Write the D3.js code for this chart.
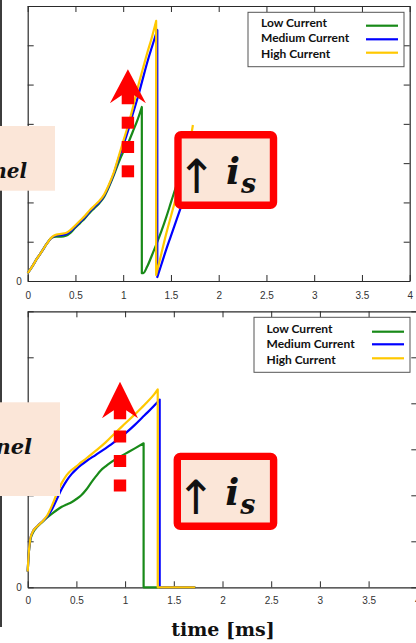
<!DOCTYPE html>
<html><head><meta charset="utf-8">
<script src="https://cdn.jsdelivr.net/npm/d3@7"></script>
<style>
html,body{margin:0;padding:0;background:#fff;}
svg{display:block;}
</style></head>
<body>
<svg id="c" width="416" height="643"></svg>
<script>
// ---------- DATA ----------
const seriesNames = ["Low Current", "Medium Current", "High Current"];
const seriesColors = ["#188a18", "#0000ff", "#ffc800"];
const xTickValues = [0, 0.5, 1, 1.5, 2, 2.5, 3, 3.5, 4];
const xTickLabels = ["0", "0.5", "1", "1.5", "2", "2.5", "3", "3.5", "4"];
const xLabel = "time [ms]";

// top panel
const topLowT  = [0,0.05,0.1,0.15,0.2,0.25,0.3,0.35,0.4,0.45,0.5,0.55,0.6,0.65,0.7,0.75,0.8,0.85,0.9,0.95,1.0,1.05,1.1,1.15,1.195, 1.195,1.21,1.25,1.3,1.35,1.4,1.45,1.5,1.55,1.6,1.65,1.7,1.73];
const topLowV  = [0.2,0.38,0.58,0.76,0.95,1.1,1.13,1.13,1.15,1.23,1.36,1.48,1.6,1.74,1.86,1.98,2.14,2.39,2.68,3.0,3.28,3.5,3.8,4.1,4.43, 0.2,0.2,0.36,0.65,0.95,1.27,1.62,2.0,2.38,2.75,3.1,3.45,3.65];
const topMedT  = [0,0.05,0.1,0.15,0.2,0.25,0.3,0.35,0.4,0.45,0.5,0.55,0.6,0.65,0.7,0.75,0.8,0.85,0.9,0.95,1.0,1.05,1.1,1.15,1.2,1.25,1.3,1.357, 1.357,1.4,1.45,1.5,1.55,1.6,1.65,1.7,1.73];
const topMedV  = [0.2,0.38,0.58,0.76,0.95,1.1,1.16,1.17,1.19,1.27,1.39,1.51,1.63,1.77,1.89,2.01,2.17,2.42,2.72,3.1,3.45,3.82,4.25,4.65,5.1,5.55,5.95,6.39, 0.1,0.42,0.8,1.15,1.5,1.85,2.2,2.55,2.75];
const topHighT = [0,0.05,0.1,0.15,0.2,0.25,0.3,0.35,0.4,0.45,0.5,0.55,0.6,0.65,0.7,0.75,0.8,0.85,0.9,0.95,1.0,1.05,1.1,1.15,1.2,1.25,1.3,1.345, 1.345,1.4,1.45,1.5,1.55,1.6,1.65,1.7,1.73];
const topHighV = [0.2,0.38,0.58,0.76,0.95,1.11,1.18,1.2,1.22,1.3,1.42,1.54,1.66,1.8,1.92,2.04,2.2,2.45,2.75,3.15,3.55,3.95,4.4,4.9,5.35,5.79,6.2,6.62, 0.15,0.7,1.2,1.65,2.1,2.6,3.05,3.55,3.97];

// bottom panel
const botLowT  = [0,0.01,0.025,0.05,0.1,0.15,0.2,0.25,0.3,0.35,0.4,0.45,0.5,0.55,0.6,0.65,0.7,0.75,0.8,0.85,0.9,1.0,1.1,1.19, 1.19,1.72];
const botLowV  = [0.34,0.72,1.0,1.17,1.32,1.42,1.52,1.6,1.68,1.75,1.8,1.85,1.92,2.0,2.12,2.27,2.41,2.54,2.63,2.71,2.78,2.9,3.02,3.13, 0,0];
const botMedT  = [0,0.01,0.025,0.05,0.1,0.15,0.2,0.25,0.3,0.35,0.4,0.45,0.5,0.55,0.6,0.7,0.8,0.9,1.0,1.1,1.2,1.3,1.355, 1.355,1.72];
const botMedV  = [0.34,0.72,1.03,1.2,1.33,1.43,1.54,1.7,1.92,2.14,2.32,2.46,2.57,2.66,2.74,2.88,3.02,3.17,3.34,3.53,3.74,3.95,4.08, 0,0];
const botHighT = [0,0.01,0.025,0.05,0.1,0.15,0.2,0.25,0.3,0.35,0.4,0.45,0.5,0.55,0.6,0.7,0.8,0.9,1.0,1.1,1.2,1.3,1.335, 1.335,1.72];
const botHighV = [0.34,0.72,1.03,1.2,1.33,1.43,1.56,1.78,2.04,2.27,2.44,2.55,2.63,2.72,2.8,2.97,3.15,3.36,3.56,3.76,3.97,4.2,4.3, 0,0];

const topYTicks = [0,1,2,3,4,5,6,7];
const botYTicks = [0,1,2,3,4,5,6];

// ---------- LAYOUT ----------
const svg = d3.select("#c");

const panels = [
  { x0: 27.7, x1: 409.7, y0: 281, y1: 6, ymax: 7, yTicks: topYTicks, pad: 11,
    series: [[topLowT, topLowV], [topMedT, topMedV], [topHighT, topHighV]],
    legend: { x: 248, y: 12.3, w: 156, h: 54.4, tx: 261, ty: [26.7, 42.3, 57.7], lx0: 366, lx1: 398, ly: [25.7, 39.3, 52.7] },
    box: { x: 178, y: 134.7, w: 95.5, h: 70.6 },
    lbox: { x: -2, y: 126, w: 57, h: 64.7, tx: 27, ty: 178, fs: 20 },
    arrow: { cx: 127.9, tip: 69.3, base: 103.3, hw: 18, sw: 6.2, sq: [116.7, 141, 165.3] } },
  { x0: 27.7, x1: 417.3, y0: 587.3, y1: 311.3, ymax: 6, yTicks: botYTicks, pad: 10,
    series: [[botLowT, botLowV], [botMedT, botMedV], [botHighT, botHighV]],
    legend: { x: 254, y: 317.3, w: 156, h: 55, tx: 266.5, ty: [332.7, 348.3, 364.3], lx0: 372, lx1: 404, ly: [331.7, 344.3, 358.3] },
    box: { x: 177.3, y: 456.4, w: 96.3, h: 69.9 },
    lbox: { x: -2, y: 402.3, w: 62, h: 93.7, tx: 32, ty: 454.3, fs: 21 },
    arrow: { cx: 120, tip: 381.7, base: 418.3, hw: 18, sw: 6.2, sq: [430.5, 455, 479.5] } }
];

// left border of neighbouring figure
svg.append("line").attr("x1", 1).attr("x2", 1).attr("y1", 0).attr("y2", 627)
  .attr("stroke", "#3c3c3c").attr("stroke-width", 2);

panels.forEach(p => {
  const x = d3.scaleLinear().domain([0, 4]).range([p.x0, p.x1]);
  const y = d3.scaleLinear().domain([0, p.ymax]).range([p.y0, p.y1]);
  const g = svg.append("g");

  // axes (inward ticks, box frame)
  const axB = d3.axisBottom(x).tickValues(xTickValues).tickFormat((d, i) => xTickLabels[i])
    .tickSizeInner(-6).tickSizeOuter(0).tickPadding(p.pad);
  const axT = d3.axisTop(x).tickValues(xTickValues).tickFormat("").tickSizeInner(-6).tickSizeOuter(0);
  const axL = d3.axisLeft(y).tickValues(p.yTicks).tickFormat(d => d === 0 ? "0" : "")
    .tickSizeInner(-6).tickSizeOuter(0).tickPadding(6);
  const axR = d3.axisRight(y).tickValues(p.yTicks).tickFormat("").tickSizeInner(-6).tickSizeOuter(0);

  const gb = g.append("g").attr("transform", `translate(0,${p.y0})`).call(axB);
  const gt = g.append("g").attr("transform", `translate(0,${p.y1})`).call(axT);
  const gl = g.append("g").attr("transform", `translate(${p.x0},0)`).call(axL);
  const gr = g.append("g").attr("transform", `translate(${p.x1},0)`).call(axR);
  [gb, gt, gl, gr].forEach(a => {
    a.selectAll("path.domain").attr("stroke", "#2a2a2a").attr("stroke-width", 1.2);
    a.selectAll(".tick line").attr("stroke", "#2a2a2a").attr("stroke-width", 1);
    a.selectAll(".tick text").attr("fill", "#333").attr("font-family", "Liberation Sans, Arial, sans-serif").attr("font-size", 10);
  });

  // data lines
  p.series.forEach(([ts, vs], si) => {
    const pts = ts.map((t, i) => [t, vs[i]]);
    // split at vertical drops
    const segs = [[pts[0]]];
    for (let i = 1; i < pts.length; i++) {
      if (pts[i][0] === pts[i - 1][0]) segs.push([pts[i]]);
      else segs[segs.length - 1].push(pts[i]);
    }
    const ln = d3.line().x(d => x(d[0])).y(d => y(d[1])).curve(d3.curveMonotoneX);
    let dstr = "";
    segs.forEach((s, k) => {
      let part = s.length > 1 ? ln(s) : `M${x(s[0][0])},${y(s[0][1])}`;
      if (k > 0) part = "L" + part.slice(1);
      dstr += part;
    });
    g.append("path").attr("d", dstr).attr("fill", "none")
      .attr("stroke", seriesColors[si]).attr("stroke-width", 2.2)
      .attr("stroke-linejoin", "round");
  });

  // legend
  const L = p.legend;
  g.append("rect").attr("x", L.x).attr("y", L.y).attr("width", L.w).attr("height", L.h)
    .attr("fill", "#fff").attr("stroke", "#555").attr("stroke-width", 1);
  seriesNames.forEach((n, i) => {
    g.append("text").attr("x", L.tx).attr("y", L.ty[i]).text(n)
      .attr("font-family", "Lato, 'Open Sans', sans-serif").attr("font-weight", 700)
      .attr("font-size", 12).attr("fill", "#111");
    g.append("line").attr("x1", L.lx0).attr("x2", L.lx1).attr("y1", L.ly[i]).attr("y2", L.ly[i])
      .attr("stroke", seriesColors[i]).attr("stroke-width", 2.2);
  });

  // left peach label box (cropped)
  const lb = p.lbox;
  g.append("rect").attr("x", lb.x).attr("y", lb.y).attr("width", lb.w).attr("height", lb.h).attr("fill", "#fbe6d8");
  g.append("text").attr("x", lb.tx).attr("y", lb.ty).attr("text-anchor", "end").text("Channel")
    .attr("font-family", "DejaVu Serif, serif").attr("font-weight", 700).attr("font-style", "italic")
    .attr("font-size", lb.fs).attr("fill", "#111");

  // red arrow and dotted shaft
  const a = p.arrow;
  const head = [[a.cx, a.tip], [a.cx + a.hw, a.base], [a.cx + a.sw, a.base - 8], [a.cx + a.sw, a.base + 1],
                [a.cx - a.sw, a.base + 1], [a.cx - a.sw, a.base - 8], [a.cx - a.hw, a.base]];
  g.append("polygon").attr("points", head.map(q => q.join(",")).join(" ")).attr("fill", "#ff0000");
  a.sq.forEach(sy => {
    g.append("rect").attr("x", a.cx - a.sw).attr("y", sy).attr("width", 2 * a.sw).attr("height", 12).attr("fill", "#ff0000");
  });

  // red bordered box with ↑ i_s
  const b = p.box;
  g.append("rect").attr("x", b.x).attr("y", b.y).attr("width", b.w).attr("height", b.h)
    .attr("rx", 3).attr("fill", "#fbe6d8").attr("stroke", "#ff0000").attr("stroke-width", 7.4);
  const cy = b.y + b.h / 2;
  g.append("text").attr("x", b.x + 18.5).attr("y", cy + 23).text("↑")
    .attr("text-anchor", "middle").attr("font-family", "DejaVu Sans, sans-serif").attr("font-size", 47).attr("fill", "#111");
  const t = g.append("text").attr("x", b.x + 48).attr("y", cy + 13.5)
    .attr("font-family", "DejaVu Serif, serif").attr("font-weight", 700).attr("font-style", "italic").attr("fill", "#111");
  t.append("tspan").text("i").attr("font-size", 37);
  t.append("tspan").text("s").attr("font-size", 27).attr("dy", 9).attr("dx", 1);
});

// x axis title
svg.append("text").attr("x", 223).attr("y", 636).attr("text-anchor", "middle").text(xLabel)
  .attr("font-family", "DejaVu Serif, serif").attr("font-weight", 700).attr("font-size", 19).attr("fill", "#111");
</script>
</body></html>
